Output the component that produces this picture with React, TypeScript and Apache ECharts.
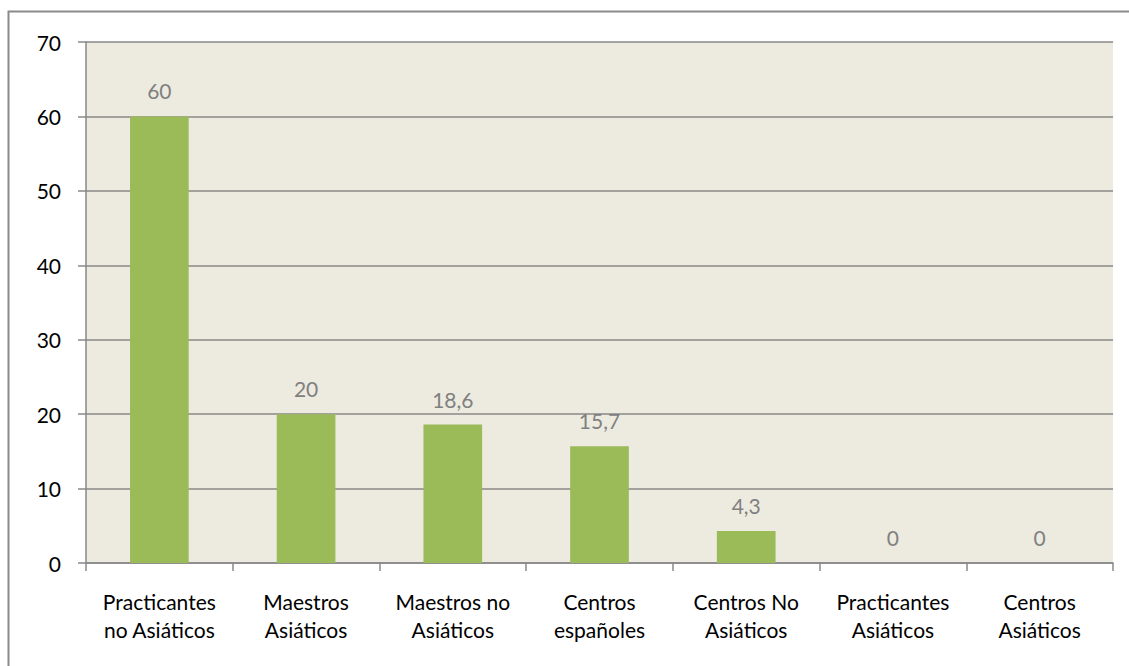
import React, { useEffect, useRef } from "react";
import * as echarts from "echarts";

const categories = [
  "Practicantes\nno Asiáticos",
  "Maestros\nAsiáticos",
  "Maestros no\nAsiáticos",
  "Centros\nespañoles",
  "Centros No\nAsiáticos",
  "Practicantes\nAsiáticos",
  "Centros\nAsiáticos",
];
const values = [60, 20, 18.6, 15.7, 4.3, 0, 0];
const yTicks = { min: 0, max: 70, interval: 10 };

const FONT = "Lato, 'Open Sans', sans-serif";

export default function App() {
  const ref = useRef<HTMLDivElement>(null);
  useEffect(() => {
    if (!ref.current) return;
    const chart = echarts.init(ref.current, undefined, { renderer: "svg" });
    chart.setOption({
      animation: false,
      backgroundColor: "#ffffff",
      textStyle: { fontFamily: FONT },
      graphic: [
        {
          type: "rect",
          shape: { x: 8.5, y: 11.5, width: 1140, height: 680 },
          style: { fill: "none", stroke: "#8a8a8a", lineWidth: 2 },
          silent: true,
          z: 100,
        },
      ],
      grid: {
        left: 86,
        right: 16,
        top: 42,
        bottom: 103,
        show: true,
        backgroundColor: "#EDEBE0",
        borderWidth: 0,
      },
      xAxis: {
        type: "category",
        data: categories,
        axisLine: { show: true, lineStyle: { color: "#898989", width: 1.5 } },
        axisTick: { show: true, length: 8, alignWithLabel: false, lineStyle: { color: "#898989", width: 1.5 } },
        axisLabel: {
          color: "#000000",
          fontSize: 21,
          lineHeight: 28,
          margin: 24,
          fontFamily: FONT,
          interval: 0,
        },
      },
      yAxis: {
        type: "value",
        min: yTicks.min,
        max: yTicks.max,
        interval: yTicks.interval,
        axisLine: { show: true, lineStyle: { color: "#898989", width: 1.5 } },
        axisTick: { show: true, inside: false, length: 8, lineStyle: { color: "#898989", width: 1.5 } },
        splitLine: { show: true, lineStyle: { color: "#898989", width: 1.5 } },
        axisLabel: { color: "#000000", fontSize: 21, margin: 25, fontFamily: FONT },
      },
      series: [
        {
          type: "bar",
          data: values,
          barWidth: "40%",
          itemStyle: { color: "#9BBB59" },
          label: {
            show: true,
            position: "top",
            distance: 15,
            color: "#808080",
            fontSize: 21,
            fontFamily: FONT,
            formatter: (p: any) => String(p.value).replace(".", ","),
          },
        },
      ],
    });
    return () => chart.dispose();
  }, []);
  return (
    <div
      ref={ref}
      style={{ position: "fixed", left: 0, top: 0, width: 1129, height: 666 }}
    />
  );
}
